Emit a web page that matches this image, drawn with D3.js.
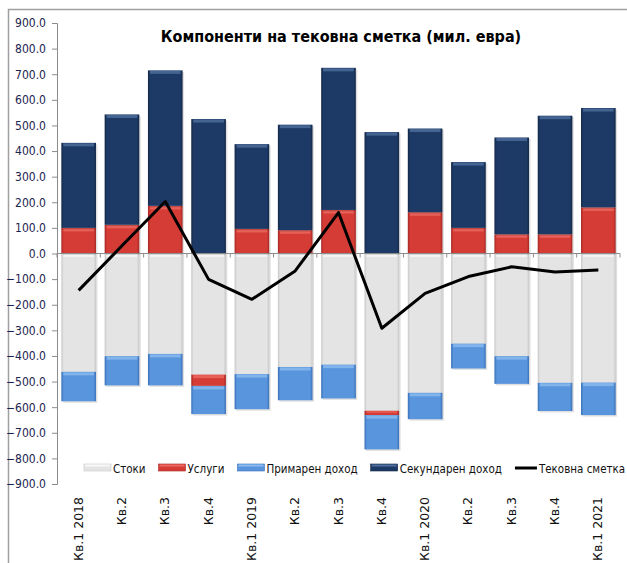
<!DOCTYPE html>
<html>
<head>
<meta charset="utf-8">
<script src="https://cdn.jsdelivr.net/npm/d3@7"></script>
<style>
  body { margin: 0; background: #fff; }
  svg { display: block; }
</style>
</head>
<body>
<div id="viz"></div>
<script>
var quarters = ["Кв.1 2018", "Кв.2", "Кв.3", "Кв.4", "Кв.1 2019", "Кв.2", "Кв.3", "Кв.4",
                "Кв.1 2020", "Кв.2", "Кв.3", "Кв.4", "Кв.1 2021"];
var goods     = [-462, -401, -392, -473, -471, -443, -434, -614, -544, -352, -401, -505, -504];
var services  = [100, 112, 186, -44, 96, 91, 170, -17, 161, 100, 75, 75, 180];
var primary   = [-115, -114, -123, -110, -137, -130, -132, -134, -103, -97, -108, -110, -127];
var secondary = [332, 431, 529, 525, 331, 412, 555, 474, 327, 257, 378, 463, 388];
var current   = [-144, 30, 203, -101, -179, -68, 160, -292, -156, -90, -52, -72, -64];
var yTicks = d3.range(-900, 901, 100);
var seriesNames = ["Стоки", "Услуги", "Примарен доход", "Секундарен доход"];
var lineName = "Тековна сметка";
var title = "Компоненти на тековна сметка (мил. евра)";

var W = 627, H = 563;
var plot = {left: 57, right: 620, top: 23, bottom: 484};

var colors = {
  "Стоки": ["#e4e4e4", "#f7f7f7", "#c8c8c8"],
  "Услуги": ["#d63c36", "#ec6a63", "#a52823"],
  "Примарен доход": ["#5895dc", "#8dbcf0", "#3a70b8"],
  "Секундарен доход": ["#1d3a66", "#4f6f9e", "#132847"]
};

var svg = d3.select("#viz").append("svg")
    .attr("width", W).attr("height", H);

var defs = svg.append("defs");
seriesNames.forEach(function (name, i) {
  var c = colors[name];
  var g = defs.append("linearGradient").attr("id", "g" + i)
      .attr("x1", 0).attr("x2", 1).attr("y1", 0).attr("y2", 0);
  g.append("stop").attr("offset", "0%").attr("stop-color", c[2]);
  g.append("stop").attr("offset", "7%").attr("stop-color", c[0]);
  g.append("stop").attr("offset", "93%").attr("stop-color", c[0]);
  g.append("stop").attr("offset", "100%").attr("stop-color", c[2]);
});

// chart frame
svg.append("rect")
    .attr("x", 8.5).attr("y", 9.5).attr("width", W + 10).attr("height", H + 10)
    .attr("fill", "none").attr("stroke", "#a0a0a0").attr("stroke-width", 1.5);

var x = d3.scaleBand()
    .domain(d3.range(quarters.length))
    .range([plot.left, plot.right])
    .paddingInner(0.2)
    .paddingOuter(0.1);

var y = d3.scaleLinear()
    .domain([-900, 900])
    .range([plot.bottom, plot.top]);

// stacked data
var rows = quarters.map(function (q, i) {
  return {"Стоки": goods[i], "Услуги": services[i], "Примарен доход": primary[i], "Секундарен доход": secondary[i]};
});
var stacked = d3.stack()
    .keys(seriesNames)
    .offset(d3.stackOffsetDiverging)(rows);

var barsG = svg.append("g");
stacked.forEach(function (layer, li) {
  var name = seriesNames[li];
  var c = colors[name];
  var g = barsG.append("g");
  layer.forEach(function (d, i) {
    if (d[0] === d[1]) return;
    var top = y(Math.max(d[0], d[1])), bot = y(Math.min(d[0], d[1]));
    var bx = x(i), bw = x.bandwidth();
    // shadow
    g.append("rect").attr("x", bx + 1.5).attr("y", top + 1.5)
        .attr("width", bw).attr("height", bot - top)
        .attr("fill", "#000").attr("opacity", 0.12);
    g.append("rect").attr("x", bx).attr("y", top)
        .attr("width", bw).attr("height", bot - top)
        .attr("fill", "url(#g" + li + ")");
    // bevel highlight at top
    var hh = Math.min(3, (bot - top) / 3);
    g.append("rect").attr("x", bx + 2).attr("y", top + 0.5)
        .attr("width", bw - 4).attr("height", hh)
        .attr("fill", c[1]).attr("opacity", 0.8);
  });
});

// y axis
var yAxis = svg.append("g")
    .attr("transform", "translate(" + plot.left + ",0)")
    .call(d3.axisLeft(y).tickValues(yTicks).tickSize(5).tickFormat(d3.format(".1f")));
yAxis.select(".domain").attr("stroke", "#8c8c8c");
yAxis.selectAll(".tick line").attr("stroke", "#8c8c8c");
yAxis.selectAll(".tick text")
    .attr("x", -11)
    .attr("fill", "#1c2450")
    .style("font-family", "'DejaVu Sans Condensed', 'DejaVu Sans'")
    .style("font-size", "12px");

// zero line with category ticks
var zero = svg.append("g");
zero.append("line")
    .attr("x1", plot.left).attr("x2", plot.right)
    .attr("y1", y(0)).attr("y2", y(0))
    .attr("stroke", "#8c8c8c");
d3.range(quarters.length + 1).forEach(function (i) {
  var xx = plot.left + i * x.step();
  zero.append("line")
      .attr("x1", xx).attr("x2", xx)
      .attr("y1", y(0)).attr("y2", y(0) + 4)
      .attr("stroke", "#8c8c8c");
});

// line
svg.append("path")
    .datum(current)
    .attr("fill", "none")
    .attr("stroke", "#000")
    .attr("stroke-width", 3)
    .attr("stroke-linejoin", "round")
    .attr("d", d3.line()
        .x(function (d, i) { return x(i) + x.bandwidth() / 2; })
        .y(function (d) { return y(d); }));

// x labels (rotated)
svg.append("g").selectAll("text")
    .data(quarters)
    .join("text")
    .attr("transform", function (d, i) {
      return "translate(" + (x(i) + x.bandwidth() / 2 + 4) + "," + (plot.bottom + 13) + ") rotate(-90)";
    })
    .attr("text-anchor", "end")
    .attr("fill", "#111")
    .style("font-family", "'DejaVu Sans'")
    .style("font-size", "12.5px")
    .text(function (d) { return d; });

// title
svg.append("text")
    .attr("x", 341).attr("y", 42)
    .attr("text-anchor", "middle")
    .attr("fill", "#000")
    .style("font-family", "'DejaVu Sans Condensed', 'DejaVu Sans'")
    .style("font-weight", "bold")
    .style("font-size", "16px")
    .text(title);

// legend (text squeezed horizontally like the narrow original font)
var squeeze = 0.885;
var legend = svg.append("g").attr("transform", "translate(84,468)");
var lx = 0;
var items = seriesNames.concat([lineName]);
items.forEach(function (name, i) {
  var g = legend.append("g").attr("transform", "translate(" + lx + ",0)");
  if (i < seriesNames.length) {
    var c = colors[name];
    g.append("rect").attr("x", 0).attr("y", -4).attr("width", 27).attr("height", 7)
        .attr("fill", c[0]).attr("stroke", c[2]).attr("stroke-width", 0.6);
    g.append("rect").attr("x", 1).attr("y", -3.5).attr("width", 25).attr("height", 2)
        .attr("fill", c[1]);
  } else {
    g.append("line").attr("x1", 0).attr("x2", 22).attr("y1", 0).attr("y2", 0)
        .attr("stroke", "#000").attr("stroke-width", 3);
  }
  var sw = i < seriesNames.length ? 29 : 24;
  var t = g.append("text")
      .attr("transform", "translate(" + sw + ",4.5) scale(" + squeeze + ",1)")
      .attr("fill", "#111")
      .style("font-family", "'DejaVu Sans Condensed', 'DejaVu Sans'")
      .style("font-size", "13px")
      .text(name);
  lx += sw + t.node().getComputedTextLength() * squeeze + 13;
});
</script>
</body>
</html>
